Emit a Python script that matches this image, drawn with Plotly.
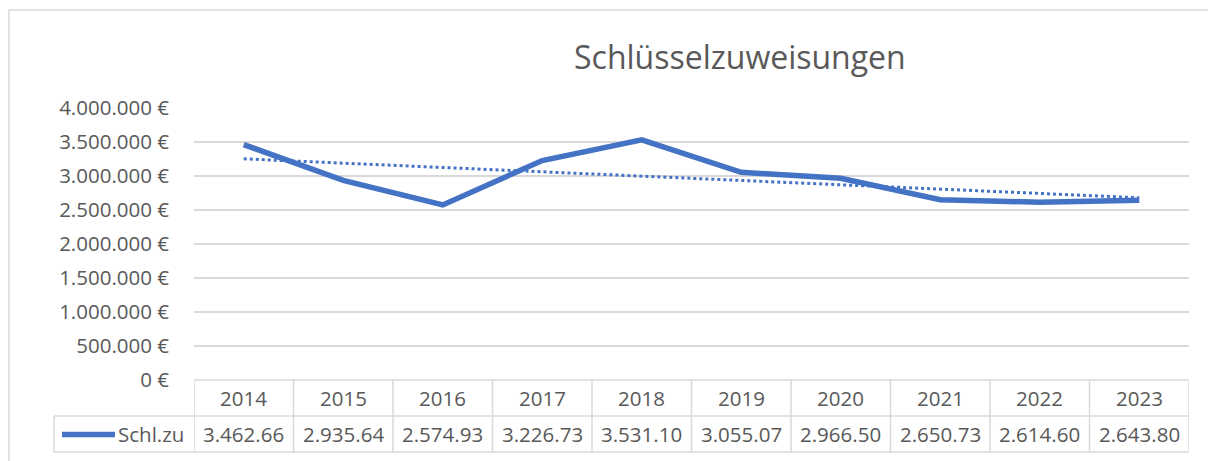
import numpy as np
import plotly.graph_objects as go

years = ["2014", "2015", "2016", "2017", "2018", "2019", "2020", "2021", "2022", "2023"]
values = [3462660, 2935640, 2574930, 3226730, 3531100, 3055070, 2966500, 2650730, 2614600, 2643800]
tick_vals = [0, 500000, 1000000, 1500000, 2000000, 2500000, 3000000, 3500000, 4000000]
tick_text = [f"{v:,}".replace(",", ".") + " €" for v in tick_vals]
series_name = "Schl.zu"
title_text = "Schlüsselzuweisungen"

W, H = 1208, 461
L, R, T, B = 194, 19, 108, 81
PW = W - L - R
PH = H - T - B

def px(x):
    return (x - L) / PW

def py(y):
    return (H - B - y) / PH

FONT = "Open Sans"
TXT = "#595959"
BLUE = "#4472C4"
GRID = "#D9D9D9"

idx = np.arange(len(values))
coef = np.polyfit(idx, values, 1)
trend = np.polyval(coef, idx)

fig = go.Figure()
fig.add_trace(go.Scatter(x=idx, y=trend, mode="lines",
                         line=dict(color=BLUE, width=3, dash="dot"),
                         showlegend=False, hoverinfo="skip"))
fig.add_trace(go.Scatter(x=idx, y=values, mode="lines", name=series_name,
                         line=dict(color=BLUE, width=5.5, shape="linear"),
                         showlegend=False))

shapes = []
# outer chart border
shapes.append(dict(type="rect", xref="paper", yref="paper",
                   x0=px(9), x1=px(1230), y0=py(480), y1=py(10),
                   line=dict(color=GRID, width=1.5), fillcolor="rgba(0,0,0,0)", layer="below"))
# table horizontal lines
shapes.append(dict(type="line", xref="x", yref="paper", x0=-0.5, x1=9.5, y0=py(380), y1=py(380),
                   line=dict(color=GRID, width=1.5)))
for yy in (416, 452):
    shapes.append(dict(type="line", xref="paper", yref="paper", x0=px(54), x1=1.0, y0=py(yy), y1=py(yy),
                       line=dict(color=GRID, width=1.5)))
# table vertical lines
for i in range(len(years) + 1):
    shapes.append(dict(type="line", xref="x", yref="paper", x0=i - 0.5, x1=i - 0.5, y0=py(380), y1=py(452),
                       line=dict(color=GRID, width=1.5)))
shapes.append(dict(type="line", xref="paper", yref="paper", x0=px(54), x1=px(54), y0=py(416), y1=py(452),
                   line=dict(color=GRID, width=1.5)))
# legend key
shapes.append(dict(type="line", xref="paper", yref="paper", x0=px(62), x1=px(115), y0=py(434.5), y1=py(434.5),
                   line=dict(color=BLUE, width=5.5)))

annotations = []
for i, (yr, v) in enumerate(zip(years, values)):
    annotations.append(dict(x=i, y=py(398), xref="x", yref="paper", text=yr, showarrow=False,
                            font=dict(family=FONT, size=20.5, color=TXT), xanchor="center", yanchor="middle"))
    label = f"{v:,}".replace(",", ".")[:8]
    annotations.append(dict(x=i, y=py(434), xref="x", yref="paper", text=label, showarrow=False,
                            font=dict(family=FONT, size=20.5, color=TXT), xanchor="center", yanchor="middle"))
annotations.append(dict(x=px(116), y=py(434), xref="paper", yref="paper", text=series_name, showarrow=False,
                        font=dict(family=FONT, size=20.5, color=TXT), xanchor="left", yanchor="middle"))
annotations.append(dict(x=px(740), y=py(56), xref="paper", yref="paper", text=title_text, showarrow=False,
                        font=dict(family=FONT, size=32, color=TXT), xanchor="center", yanchor="middle"))

fig.update_layout(
    width=W, height=H,
    margin=dict(l=L, r=R, t=T, b=B, pad=0),
    paper_bgcolor="white", plot_bgcolor="white",
    shapes=shapes, annotations=annotations,
    xaxis=dict(range=[-0.5, 9.5], showticklabels=False, showgrid=False, zeroline=False,
               showline=False, fixedrange=True),
    yaxis=dict(range=[0, 4000000], tickvals=tick_vals, ticktext=tick_text,
               showgrid=True, gridcolor=GRID, gridwidth=1.5, zeroline=False, showline=False,
               ticklabelstandoff=24,
               tickfont=dict(family=FONT, size=20.5, color=TXT)),
)

fig.write_html("out.html", config={"displayModeBar": False},
               post_script="document.body.style.margin='0';")
